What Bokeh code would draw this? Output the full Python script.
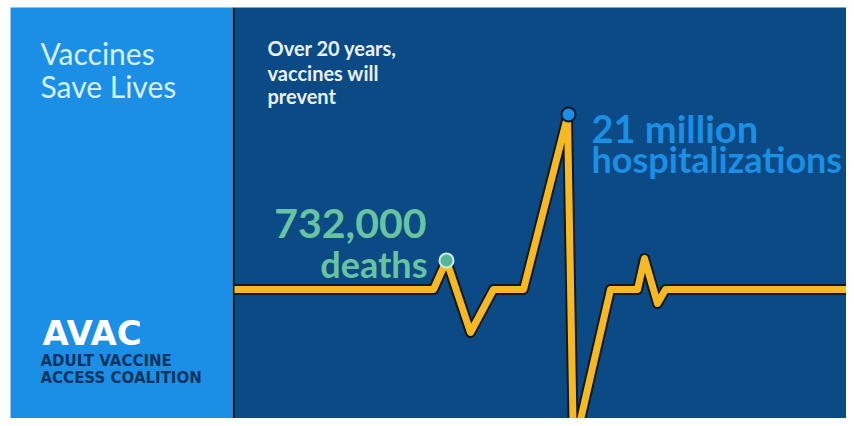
from bokeh.plotting import figure
from bokeh.models import Range1d
from bokeh.embed import file_html
from bokeh.resources import INLINE
from bokeh.core.properties import value

# ECG-style line (image pixel coordinates, y grows downward)
ecg_x = [234, 433, 446, 470, 493, 523, 567, 573, 610, 637, 644, 657, 665, 854]
ecg_y = [289, 289, 260, 332, 289, 289, 116, 450, 289, 289, 258, 303, 289, 289]

# highlighted points
death_pt = (446, 260)
hosp_pt = (568, 114)

title_lines = ["Vaccines", "Save Lives"]
intro_lines = ["Over 20 years,", "vaccines will", "prevent"]
death_value, death_unit = "732,000", "deaths"
hosp_value, hosp_unit = "21 million", "hospitalizations"
logo_text = "AVAC"
logo_sub = ["ADULT VACCINE", "ACCESS COALITION"]

NAVY = "#0b4a84"
LIGHT = "#1b8fe5"
GREEN = "#68c3a2"
YELLOW = "#f6b922"

p = figure(width=846, height=418, output_backend="svg", toolbar_location=None,
           x_range=Range1d(0, 846), y_range=Range1d(418, 0),
           min_border=0, background_fill_color="white", border_fill_color="white")
p.axis.visible = False
p.grid.visible = False
p.outline_line_color = None

# panels
p.quad(left=10, right=232, top=7, bottom=430, fill_color=LIGHT, line_color=None)
p.quad(left=232, right=234.5, top=7, bottom=430, fill_color="#07284a", line_color=None)
p.quad(left=234.5, right=860, top=7, bottom=430, fill_color=NAVY, line_color=None)

# ECG line with dark outline
p.line(ecg_x, ecg_y, line_color="#101820", line_width=11, line_join="round")
p.line(ecg_x, ecg_y, line_color=YELLOW, line_width=7, line_join="round")

p.scatter([death_pt[0]], [death_pt[1]], size=14, fill_color="#55b697",
          line_color="#cdeadc", line_width=2)
p.scatter([hosp_pt[0]], [hosp_pt[1]], size=14, fill_color=LIGHT,
          line_color="#0a1a2a", line_width=2)

# left panel title
p.text([40, 40], [52, 85], text=title_lines, text_font=value("Lato"),
       text_font_size="30px", text_color="#d6effc", text_baseline="alphabetic")

# logo
p.text([42], [332], text=[logo_text], text_font=value("DejaVu Sans"), text_font_style="bold",
       text_font_size="34px", text_color="white", text_baseline="alphabetic")
p.text([40, 40], [360, 377], text=logo_sub, text_font=value("DejaVu Sans"),
       text_font_style="bold", text_font_size="15px", text_color="#0a3360",
       text_baseline="alphabetic")

# intro text
p.text([267, 267, 267], [47, 72, 95], text=intro_lines, text_font=value("Lato"),
       text_font_style="bold", text_font_size="20px", text_color="#eaf1f8",
       text_baseline="alphabetic")

# deaths label
p.text([426], [223], text=[death_value], text_font=value("Lato"), text_font_style="bold",
       text_font_size="41px", text_color=GREEN, text_align="right",
       text_baseline="alphabetic")
p.text([427], [263], text=[death_unit], text_font=value("Lato"), text_font_style="bold",
       text_font_size="36px", text_color=GREEN, text_align="right",
       text_baseline="alphabetic")

# hospitalizations label
p.text([591], [127], text=[hosp_value], text_font=value("Lato"), text_font_style="bold",
       text_font_size="38px", text_color=LIGHT, text_baseline="alphabetic")
p.text([591], [158], text=[hosp_unit], text_font=value("Lato"), text_font_style="bold",
       text_font_size="36px", text_color=LIGHT, text_baseline="alphabetic")

open("out.html", "w").write(file_html(p, INLINE))
